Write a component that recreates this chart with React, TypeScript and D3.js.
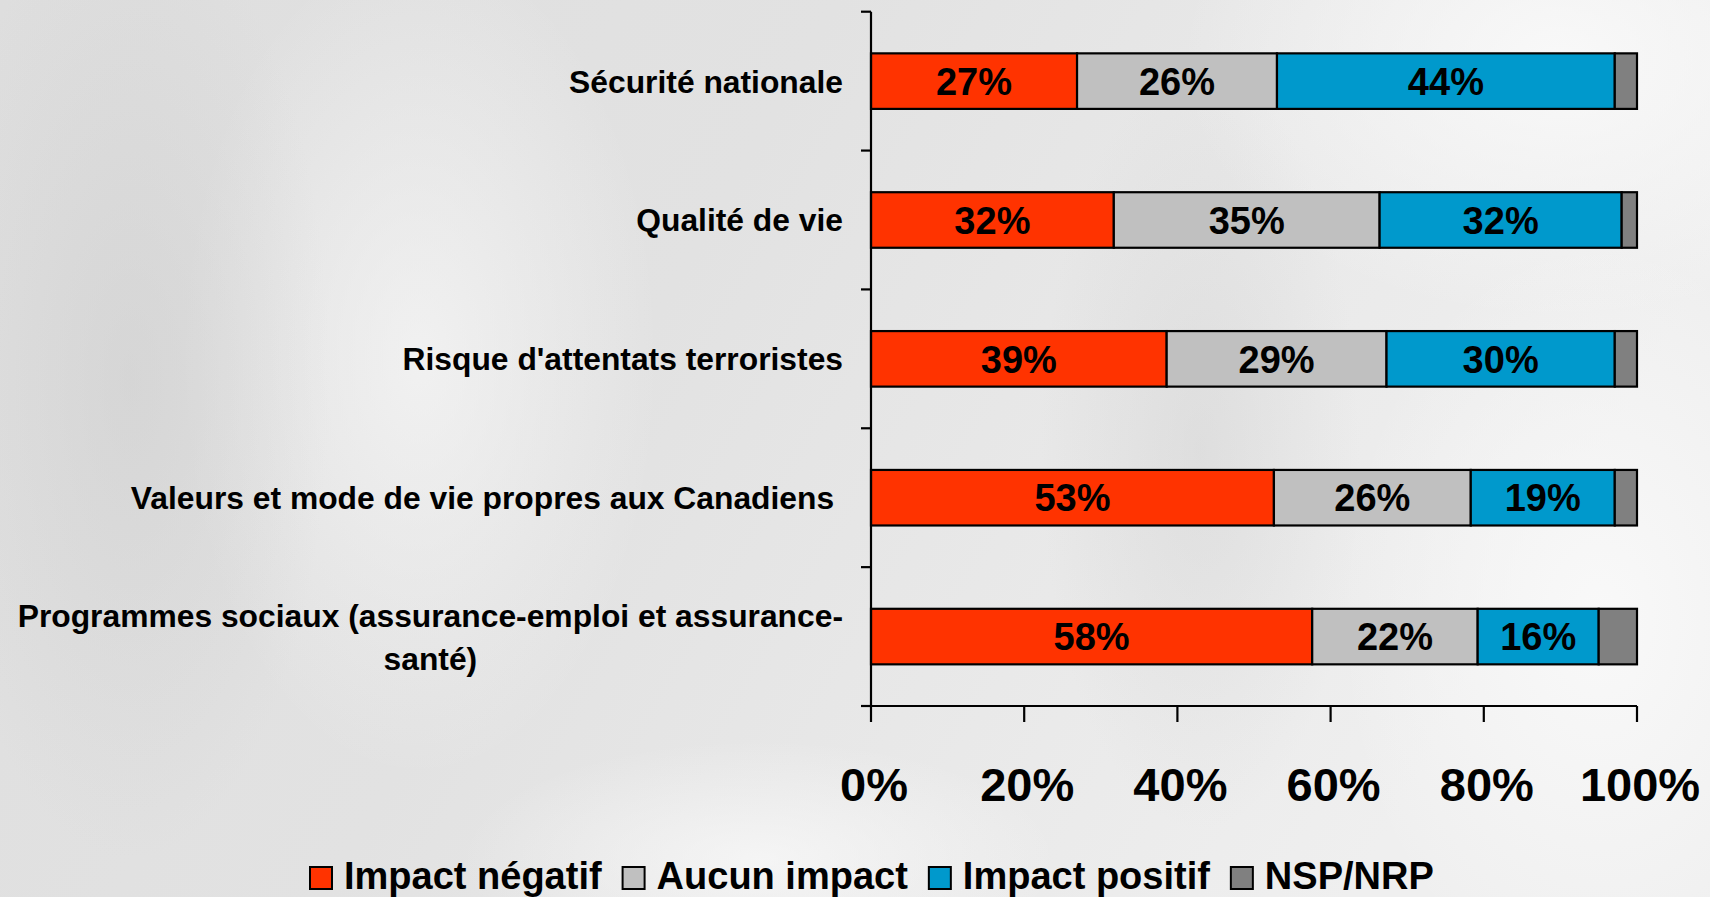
import React from "react";
import * as d3 from "d3";

const W = 1710;
const H = 897;

const categories = [
  "Sécurité nationale",
  "Qualité de vie",
  "Risque d'attentats terroristes",
  "Valeurs et mode de vie propres aux Canadiens ",
  "Programmes sociaux (assurance-emploi et assurance-|santé)",
];
const seriesNames = ["Impact négatif", "Aucun impact", "Impact positif", "NSP/NRP"];
const impactNegatif = [26.9, 31.7, 38.6, 52.6, 57.6];
const aucunImpact = [26.1, 34.7, 28.7, 25.7, 21.6];
const impactPositif = [44.1, 31.6, 29.8, 18.8, 15.8];
const nspNrp = [2.9, 2.0, 2.9, 2.9, 5.0];
const xTicks = [0, 20, 40, 60, 80, 100];
const colors = ["#FF3300", "#C0C0C0", "#0099CC", "#808080"];

const FONT = "'Liberation Sans', Arial, sans-serif";

const measure = (txt: string, size: number) => {
  const ctx = document.createElement("canvas").getContext("2d");
  if (!ctx) return txt.length * size * 0.55;
  ctx.font = `bold ${size}px 'Liberation Sans', Arial, sans-serif`;
  return ctx.measureText(txt).width;
};

export default function App() {
  const left = 871;
  const right = 1637;
  const top = 11.7;
  const bottom = 706;

  const x = d3.scaleLinear().domain([0, 100]).range([left, right]);
  const y = d3
    .scaleBand<string>()
    .domain(categories)
    .range([top, bottom])
    .paddingInner(0.6)
    .paddingOuter(0.3);

  const rows = categories.map((c, i) => ({
    cat: c,
    [seriesNames[0]]: impactNegatif[i],
    [seriesNames[1]]: aucunImpact[i],
    [seriesNames[2]]: impactPositif[i],
    [seriesNames[3]]: nspNrp[i],
  }));
  const stacked = d3.stack<any>().keys(seriesNames)(rows);

  const step = y.step();
  const boundaries = d3.range(categories.length + 1).map((i) => top + i * step);

  const catSize = 31.8;
  const labelRight = 843;

  // legend layout
  const legSize = 38;
  const sq = 22;
  let lx = 310;
  const legendItems = seriesNames.map((s, i) => {
    const item = { name: s, color: colors[i], x: lx };
    lx += sq + 12 + measure(s, legSize) + 21;
    return item;
  });

  return (
    <svg
      width={W}
      height={H}
      style={{ position: "absolute", left: 0, top: 0 }}
      fontFamily={FONT}
      fontWeight="bold"
    >
      <defs>
        <linearGradient id="bg" x1="0" y1="0" x2="1" y2="0.3">
          <stop offset="0%" stopColor="#dedede" />
          <stop offset="45%" stopColor="#e2e2e2" />
          <stop offset="100%" stopColor="#efefef" />
        </linearGradient>
        <radialGradient id="glow1" cx="0.5" cy="0.5" r="0.5">
          <stop offset="0%" stopColor="#fafafa" stopOpacity={0.9} />
          <stop offset="100%" stopColor="#fafafa" stopOpacity={0} />
        </radialGradient>
        <radialGradient id="shade1" cx="0.5" cy="0.5" r="0.5">
          <stop offset="0%" stopColor="#c8c8c8" stopOpacity={0.7} />
          <stop offset="100%" stopColor="#c8c8c8" stopOpacity={0} />
        </radialGradient>
      </defs>
      <rect width={W} height={H} fill="url(#bg)" />
      <ellipse cx={1560} cy={60} rx={380} ry={260} fill="url(#glow1)" />
      <ellipse cx={1600} cy={620} rx={260} ry={380} fill="url(#glow1)" />
      <ellipse cx={420} cy={360} rx={240} ry={420} fill="url(#glow1)" opacity={0.7} />
      <ellipse cx={130} cy={380} rx={200} ry={480} fill="url(#shade1)" opacity={0.6} />
      <ellipse cx={1200} cy={450} rx={160} ry={380} fill="url(#shade1)" opacity={0.5} />
      <ellipse cx={760} cy={860} rx={300} ry={120} fill="url(#glow1)" opacity={0.8} />

      {/* bars */}
      {stacked.map((layer, si) =>
        layer.map((d, i) => (
          <rect
            key={`${si}-${i}`}
            x={x(d[0])}
            y={y(categories[i])}
            width={x(d[1]) - x(d[0])}
            height={y.bandwidth()}
            fill={colors[si]}
            stroke="#000"
            strokeWidth={2.2}
          />
        ))
      )}

      {/* bar labels */}
      {stacked.slice(0, 3).map((layer, si) =>
        layer.map((d, i) => (
          <text
            key={`l-${si}-${i}`}
            x={(x(d[0]) + x(d[1])) / 2}
            y={(y(categories[i]) ?? 0) + y.bandwidth() / 2}
            dy="0.36em"
            textAnchor="middle"
            fontSize={38}
            fill="#000"
          >
            {Math.round(d[1] - d[0])}%
          </text>
        ))
      )}

      {/* axes */}
      <line x1={left} x2={left} y1={top} y2={bottom} stroke="#000" strokeWidth={2.2} />
      <line x1={left - 10} x2={right} y1={bottom} y2={bottom} stroke="#000" strokeWidth={2.2} />
      {boundaries.map((b, i) => (
        <line key={`yt-${i}`} x1={left - 10} x2={left} y1={b} y2={b} stroke="#000" strokeWidth={2.2} />
      ))}
      {xTicks.map((t) => (
        <g key={`xt-${t}`}>
          <line x1={x(t)} x2={x(t)} y1={bottom} y2={bottom + 16} stroke="#000" strokeWidth={2.2} />
          <text x={x(t) + 3} y={801} textAnchor="middle" fontSize={47} fill="#000">
            {t}%
          </text>
        </g>
      ))}

      {/* category labels */}
      {categories.map((c) => {
        const cy = (y(c) ?? 0) + y.bandwidth() / 2;
        const lines = c.split("|");
        if (lines.length === 1) {
          return (
            <text
              key={c}
              x={labelRight}
              y={cy}
              dy="0.36em"
              textAnchor="end"
              fontSize={catSize}
              fill="#000"
              style={{ whiteSpace: "pre" }}
            >
              {c}
            </text>
          );
        }
        const w1 = measure(lines[0], catSize);
        const mid = labelRight - w1 / 2;
        const gap = 43;
        return (
          <g key={c}>
            {lines.map((ln, k) => (
              <text
                key={k}
                x={k === 0 ? labelRight : mid}
                y={cy - ((lines.length - 1) * gap) / 2 + k * gap}
                dy="0.36em"
                textAnchor={k === 0 ? "end" : "middle"}
                fontSize={catSize}
                fill="#000"
              >
                {ln}
              </text>
            ))}
          </g>
        );
      })}

      {/* legend */}
      {legendItems.map((it) => (
        <g key={it.name}>
          <rect x={it.x} y={867} width={sq} height={sq} fill={it.color} stroke="#000" strokeWidth={2} />
          <text x={it.x + sq + 12} y={889} fontSize={legSize} fill="#000">
            {it.name}
          </text>
        </g>
      ))}
    </svg>
  );
}
